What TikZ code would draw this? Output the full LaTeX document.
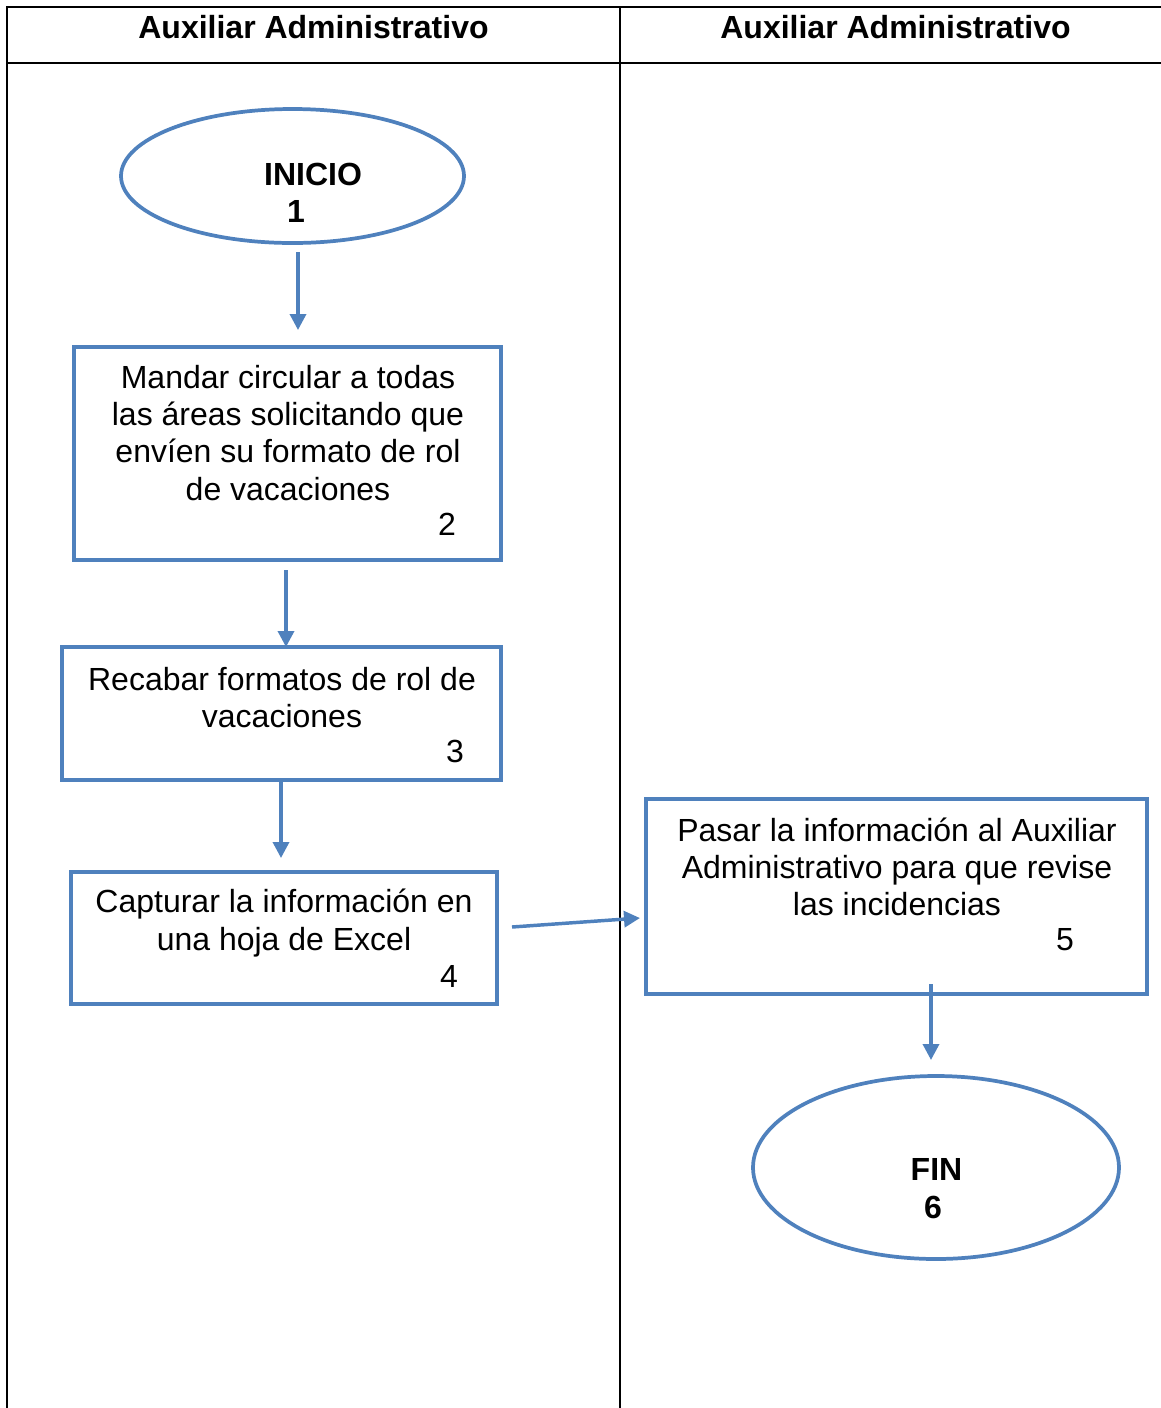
\documentclass[tikz,border=0pt]{standalone}
\usepackage{fontspec}
\setmainfont{Liberation Sans}
\usetikzlibrary{shapes.geometric,arrows.meta,calc}
\definecolor{flowblue}{HTML}{4F81BD}
\begin{document}
\begin{tikzpicture}[x=0.375pt,y=-0.375pt,
  grid/.style={draw=black,line width=0.75pt},
  stepbox/.style={draw=flowblue,line width=1.5pt,rectangle,inner sep=0pt,outer sep=0pt},
  terminal/.style={draw=flowblue,line width=1.4pt,ellipse,inner sep=0pt,outer sep=0pt},
  txt/.style={font=\fontsize{12}{13.9}\selectfont,align=center,inner sep=0pt},
  head/.style={font=\fontsize{12}{13.9}\selectfont\bfseries,inner sep=0pt},
  num/.style={font=\fontsize{12}{13.9}\selectfont,inner sep=0pt},
  arr/.style={draw=flowblue,line width=1.3pt,-{Triangle[length=6pt,width=6pt]}}]
\useasboundingbox (0,0) rectangle (1161,1408);

% swimlane table
\draw[grid] (1161,7) -- (7,7) -- (7,1410);
\draw[grid] (620,7) -- (620,1410);
\draw[grid] (7,63) -- (1161,63);
\node[head] (laneA) at (313.5,27) {Auxiliar Administrativo};
\node[head] (laneB) at (895.5,27) {Auxiliar Administrativo};

% shapes
\node[terminal,minimum width=343*0.375pt,minimum height=134*0.375pt] (inicio) at (292.5,176) {};
\node[stepbox,minimum width=427*0.375pt,minimum height=213*0.375pt] (b2) at (287.5,453.5) {};
\node[stepbox,minimum width=439*0.375pt,minimum height=133*0.375pt] (b3) at (281.5,713.5) {};
\node[stepbox,minimum width=426*0.375pt,minimum height=132*0.375pt] (b4) at (284,938) {};
\node[stepbox,minimum width=501*0.375pt,minimum height=195*0.375pt] (b5) at (896.5,896.5) {};
\node[terminal,minimum width=366*0.375pt,minimum height=183*0.375pt] (fin) at (936,1167.5) {};

% texts
\node[head] (tInicio) at (313,174) {INICIO};
\node[head] (nInicio) at (296,211) {1};
\node[txt] (t2) at (288,433) {Mandar circular a todas\\las áreas solicitando que\\envíen su formato de rol\\de vacaciones};
\node[num] (n2) at (447,524) {2};
\node[txt] (t3) at (282,697.5) {Recabar formatos de rol de\\vacaciones};
\node[num] (n3) at (455,751) {3};
\node[txt] (t4) at (284,923) {Capturar la información en\\una hoja de Excel};
\node[num] (n4) at (449,976) {4};
\node[txt] (t5) at (897,867) {Pasar la información al Auxiliar\\Administrativo para que revise\\las incidencias};
\node[num] (n5) at (1065,940) {5};
\node[head] (tFin) at (936.5,1169) {FIN};
\node[head] (nFin) at (933,1207) {6};

% connectors
\draw[arr] ($(inicio.south)+(5.5,9)$) -- ($(b2.north)+(10.5,-17)$);
\draw[arr] ($(b2.south)+(-1.5,10)$) -- ($(b3.north)+(4.5,0)$);
\draw[arr] ($(b3.south)+(-0.5,2)$) -- ($(b4.north)+(-3,-14)$);
\draw[arr] ($(b4.east)+(15,-11)$) -- ($(b5.west)+(-6,21.5)$);
\draw[arr] ($(b5.south)+(34.5,-10)$) -- ($(fin.north)+(-5,-16)$);
\end{tikzpicture}
\end{document}
